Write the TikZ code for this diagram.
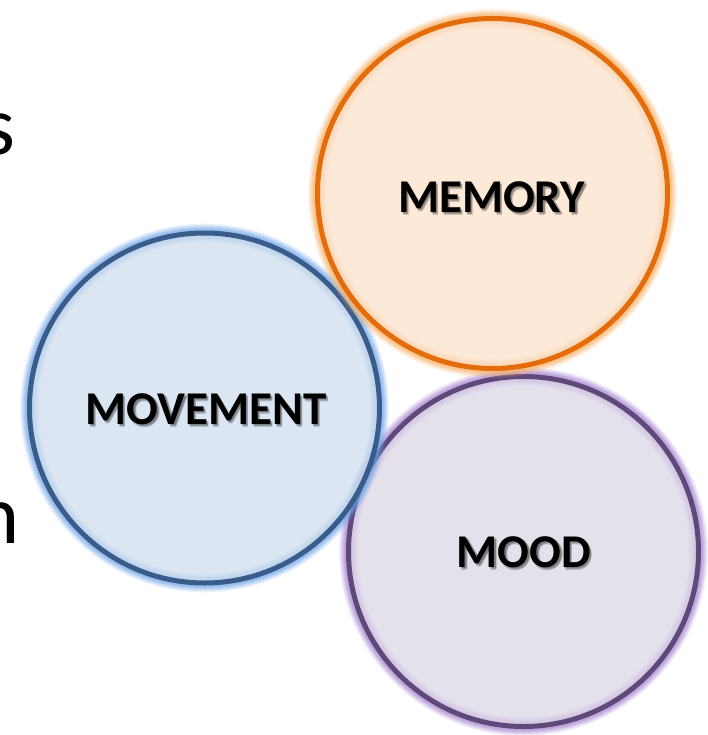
\documentclass[tikz,border=0pt]{standalone}
\usepackage{fontspec}
\setmainfont{Carlito}
\definecolor{memfill}{RGB}{252,226,204}
\definecolor{memline}{RGB}{228,108,10}
\definecolor{memglow}{RGB}{250,175,95}
\definecolor{movfill}{RGB}{208,222,238}
\definecolor{movline}{RGB}{56,93,138}
\definecolor{movglow}{RGB}{110,165,235}
\definecolor{moodfill}{RGB}{220,214,230}
\definecolor{moodline}{RGB}{95,73,122}
\definecolor{moodglow}{RGB}{165,130,210}
\tikzset{
  x=1pt, y=-1pt,
  lbl/.style={font=\fontsize{47}{50}\selectfont\bfseries, inner sep=0pt, anchor=base, text=black},
  shd/.style={font=\fontsize{47}{50}\selectfont\bfseries, inner sep=0pt, anchor=base, text=black, opacity=0.18},
  edge/.style={font=\fontsize{84}{90}\selectfont, inner sep=0pt, anchor=base east, text=black},
}
\newcommand{\glowcircle}[4]{% center, glow colour, fill, line
  \foreach \w/\o in {19/0.10,17/0.12,15/0.15,13/0.18,11/0.22,9/0.28}{
    \draw[#2, line width=\w pt, opacity=\o] #1 circle[radius=175];
  }
  \fill[#3, fill opacity=0.75] #1 circle[radius=175];
  \draw[#4, line width=5pt] #1 circle[radius=175];
}
\newcommand{\shadowtext}[2]{% position, text
  \node[shd, xshift=1.5pt, yshift=-1.5pt] at #1 {#2};
  \node[shd, xshift=2.5pt, yshift=-2.5pt] at #1 {#2};
  \node[shd, xshift=2pt, yshift=-3pt] at #1 {#2};
}
\begin{document}
\begin{tikzpicture}
\useasboundingbox (0,0) rectangle (708,735);
\fill[white] (0,0) rectangle (708,735);
% partial letters at left edge
\node[edge] (s) at (16,155) {s};
\node[edge] (n) at (20,543) {n};
% circles
\glowcircle{(523.5,551.5)}{moodglow}{moodfill}{moodline}
\glowcircle{(204.5,408)}{movglow}{movfill}{movline}
\glowcircle{(492.5,193.5)}{memglow}{memfill}{memline}
% labels with soft shadow
\shadowtext{(491.5,212)}{MEMORY}
\node[lbl] (mem) at (491.5,212) {MEMORY};
\shadowtext{(206,424)}{MOVEMENT}
\node[lbl] (mov) at (206,424) {MOVEMENT};
\shadowtext{(524,567)}{MOOD}
\node[lbl] (mood) at (524,567) {MOOD};
\end{tikzpicture}
\end{document}
